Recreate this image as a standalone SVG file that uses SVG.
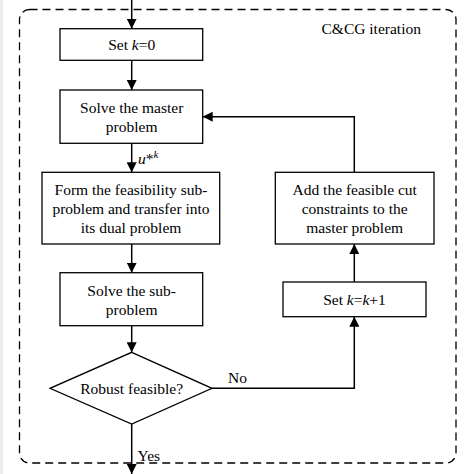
<svg xmlns="http://www.w3.org/2000/svg" width="474" height="474" viewBox="0 0 474 474">
<defs>
<marker id="ah" markerWidth="10" markerHeight="10" refX="10" refY="5" orient="auto" markerUnits="userSpaceOnUse">
<path d="M0,0 L10,5 L0,10 Z" fill="#000"/>
</marker>
<style>
.box{fill:#fff;stroke:#000;stroke-width:1.3}
.t{font-family:'Liberation Serif','Times New Roman','DejaVu Serif',serif;font-size:15.5px;fill:#000;text-anchor:middle}
.l{font-family:'Liberation Serif','Times New Roman','DejaVu Serif',serif;font-size:15.5px;fill:#000}
.c{fill:none;stroke:#000;stroke-width:1.5}
</style>
</defs>
<rect width="474" height="474" fill="#fff"/>
<rect x="0" y="0" width="3" height="474" fill="#ececec"/>
<rect id="frame" x="19.5" y="9.5" width="436.5" height="453.5" rx="10" ry="10" fill="none" stroke="#000" stroke-width="1.3" stroke-dasharray="8,5"/>
<text class="l" x="321.5" y="34">C&amp;CG iteration</text>
<g id="connectors">
<line class="c" x1="131.7" y1="0" x2="131.7" y2="28.7" marker-end="url(#ah)"/>
<line class="c" x1="131.7" y1="60.3" x2="131.7" y2="90" marker-end="url(#ah)"/>
<line class="c" x1="131.7" y1="143.3" x2="131.7" y2="172.3" marker-end="url(#ah)"/>
<line class="c" x1="131.7" y1="244" x2="131.7" y2="272.7" marker-end="url(#ah)"/>
<line class="c" x1="131.7" y1="325.7" x2="131.7" y2="352.3" marker-end="url(#ah)"/>
<line class="c" x1="131.7" y1="424" x2="131.7" y2="474" marker-end="url(#ah)"/>
<polyline class="c" points="212,388.3 354.3,388.3 354.3,316.7" marker-end="url(#ah)"/>
<line class="c" x1="354.3" y1="282" x2="354.3" y2="244" marker-end="url(#ah)"/>
<polyline class="c" points="354.3,172.3 354.3,116.7 202.7,116.7" marker-end="url(#ah)"/>
<text class="l" x="138" y="164"><tspan font-style="italic">u</tspan>*<tspan font-style="italic" font-size="11" dy="-6">k</tspan></text>
<text class="l" x="228" y="383">No</text>
<text class="l" x="137.5" y="461">Yes</text>
</g>
<g id="n1">
<rect class="box" x="60" y="28.7" width="142.7" height="31.6"/>
<text class="t" x="131.7" y="50">Set <tspan font-style="italic">k</tspan>=0</text>
</g>
<g id="n2">
<rect class="box" x="60" y="90" width="142.7" height="53.3"/>
<text class="t" x="131.7" y="113">Solve the master</text>
<text class="t" x="131.7" y="132">problem</text>
</g>
<g id="n3">
<rect class="box" x="42" y="172.3" width="177.7" height="71.7"/>
<text class="t" x="131" y="195">Form the feasibility sub-</text>
<text class="t" x="131" y="214">problem and transfer into</text>
<text class="t" x="131" y="232.5">its dual problem</text>
</g>
<g id="n4">
<rect class="box" x="60" y="272.7" width="142.7" height="53"/>
<text class="t" x="131.7" y="296">Solve the sub-</text>
<text class="t" x="131.7" y="314.5">problem</text>
</g>
<g id="n5">
<polygon class="box" points="131.7,352.3 212,388.3 131.7,424 50,388.3"/>
<text class="t" x="131.7" y="393.5">Robust feasible?</text>
</g>
<g id="n6">
<rect class="box" x="283" y="282" width="143" height="34.7"/>
<text class="t" x="354.5" y="304.5">Set <tspan font-style="italic">k</tspan>=<tspan font-style="italic">k</tspan>+1</text>
</g>
<g id="n7">
<rect class="box" x="275.3" y="172.3" width="158.7" height="71.7"/>
<text class="t" x="354.7" y="195">Add the feasible cut</text>
<text class="t" x="354.7" y="214">constraints to the</text>
<text class="t" x="354.7" y="232.5">master problem</text>
</g>
</svg>
